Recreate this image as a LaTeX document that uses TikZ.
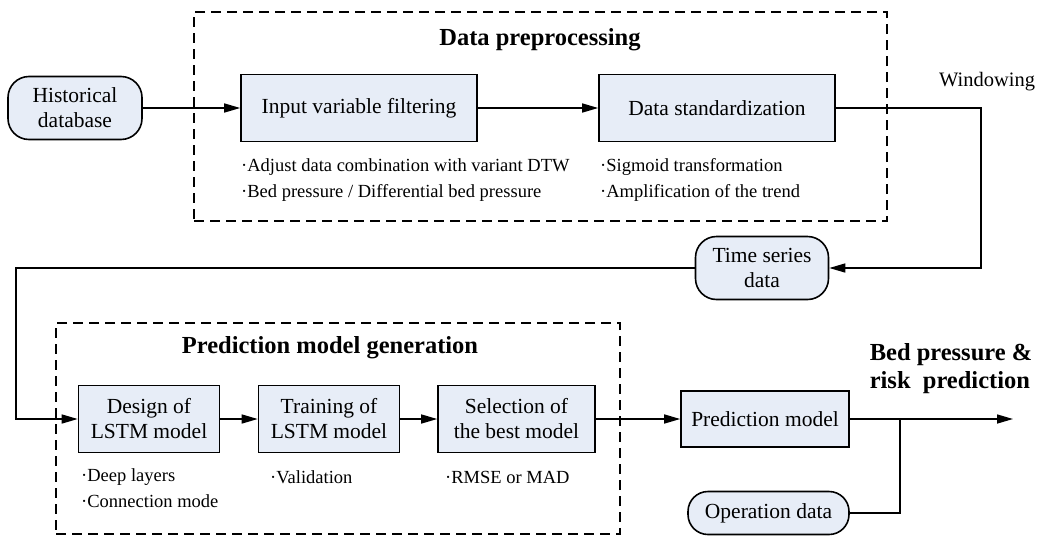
\documentclass[tikz,border=0pt]{standalone}
\usepackage{fontspec}
\setmainfont{Liberation Serif}
\usetikzlibrary{positioning,arrows.meta}

\definecolor{boxfill}{RGB}{231,237,247}

\tikzset{
	block/.style={draw, line width=1.6pt, fill=boxfill, align=center, inner sep=0pt,
		font=\fontsize{21.5}{25}\selectfont},
	store/.style={block, rounded corners=21pt},
	group/.style={draw, line width=1.5pt, dash pattern=on 10pt off 6pt, inner sep=0pt},
	flow/.style={line width=1.5pt, -{Triangle[length=16pt,width=9pt]}},
	line/.style={line width=1.5pt},
	note/.style={anchor=west, align=left, inner sep=0pt, font=\fontsize{18.5}{26}\selectfont},
	title/.style={align=center, inner sep=0pt, font=\fontsize{24.5}{28}\selectfont\bfseries},
}

\begin{document}
\begin{tikzpicture}[x=1pt, y=-1pt]
	\useasboundingbox (0, 0) rectangle (1062, 536);

	% Groups
	\node[group, minimum width=693pt, minimum height=209pt] (prep) at (540.5, 116.5) {};
	\node[group, minimum width=564pt, minimum height=211pt] (pred) at (338, 428.5) {};
	\node[title] (preptitle) at (540, 40) {Data preprocessing};
	\node[title] (predtitle) at (330, 348) {Prediction model generation};

	% Blocks
	\node[store, minimum width=134pt, minimum height=63pt] (hist) at (75, 108) {Historical\\database};
	\node[block, minimum width=236pt, minimum height=67pt] (filter) at (359, 108) {Input variable filtering};
	\node[block, minimum width=236pt, minimum height=67pt] (std) at (717, 108) {Data standardization};
	\node[store, minimum width=133pt, minimum height=63pt] (tsd) at (762, 268) {Time series\\data};

	\node[block, minimum width=141pt, minimum height=67pt] (design) at (149, 419) {Design of\\LSTM model};
	\node[block, minimum width=141pt, minimum height=67pt] (train) at (329, 419) {Training of\\LSTM model};
	\node[block, minimum width=157pt, minimum height=67pt] (select) at (516.5, 419) {Selection of\\the best model};
	\node[block, minimum width=168pt, minimum height=56pt] (pmodel) at (765, 419) {Prediction model};
	\node[store, rounded corners=20pt, minimum width=161pt, minimum height=43pt] (opdata) at (768.5, 513) {Operation data};

	% Notes
	\node[note] (filternote) at (241, 180) {·Adjust data combination with variant DTW\\·Bed pressure / Differential bed pressure};
	\node[note] (stdnote) at (600, 180) {·Sigmoid transformation\\·Amplification of the trend};
	\node[note] (designnote) at (81, 488) {·Deep layers\\·Connection mode};
	\node[note] (trainnote) at (270, 477) {·Validation};
	\node[note] (selectnote) at (445, 477) {·RMSE or MAD};

	\node[inner sep=0pt, font=\fontsize{20.5}{24}\selectfont] (win) at (987, 82) {Windowing};
	\node[title, align=left] (out) at (951, 369) {Bed pressure \&\\risk~~prediction};

	% Connectors
	\coordinate (winright) at (981, 268);
	\coordinate (loopleft) at (16, 268);
	\coordinate (merge) at (900, 419);
	\coordinate (output) at (1013, 419);

	\draw[flow] (hist) -- (filter);
	\draw[flow] (filter) -- (std);
	\draw[flow] (std.east) -| (winright) -- (tsd.east);
	\draw[flow] (tsd.west) -- (loopleft) |- (design.west);
	\draw[flow] (design) -- (train);
	\draw[flow] (train) -- (select);
	\draw[flow] (select) -- (pmodel);
	\draw[flow] (pmodel) -- (output);
	\draw[line] (opdata.east) -| (merge);
\end{tikzpicture}
\end{document}
